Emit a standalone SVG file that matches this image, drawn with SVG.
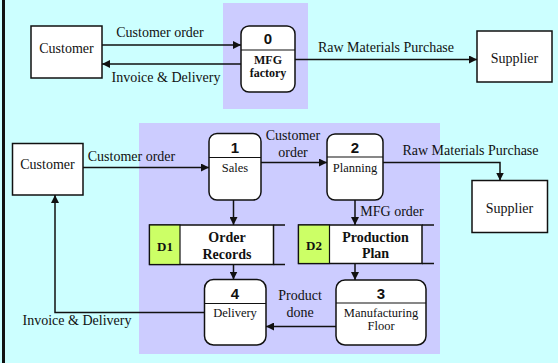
<svg xmlns="http://www.w3.org/2000/svg" width="558" height="363" viewBox="0 0 558 363">
  <defs>
    <marker id="arrow" viewBox="0 0 10 10" refX="10" refY="5" markerWidth="8" markerHeight="8" markerUnits="userSpaceOnUse" orient="auto">
      <path d="M0,0 L10,5 L0,10 Z" fill="#111"/>
    </marker>
    <style>
      .bg { fill: #CCFFFF; }
      .panel { fill: #CCCCFF; }
      .ext { fill: #FFFFFF; stroke: #111; stroke-width: 1.5; }
      .proc { fill: #FFFFFF; stroke: #111; stroke-width: 1.5; }
      .div { stroke: #111; stroke-width: 1.2; fill: none; }
      .store { fill: #FFFFFF; stroke: #111; stroke-width: 1.5; }
      .sid { fill: #CCFF66; stroke: #111; stroke-width: 1.2; }
      .flow { fill: none; stroke: #111; stroke-width: 1.5; marker-end: url(#arrow); }
      .lbl { font-family: "Liberation Serif", "Times New Roman", serif; font-size: 14px; fill: #111; }
      .ptxt { font-family: "Liberation Serif", "Times New Roman", serif; font-size: 12.5px; fill: #111; text-anchor: middle; }
      .num { font-family: "Liberation Sans", Arial, sans-serif; font-size: 15px; font-weight: bold; fill: #111; text-anchor: middle; }
      .bold { font-family: "Liberation Serif", "Times New Roman", serif; font-weight: bold; fill: #111; text-anchor: middle; }
      .mid { text-anchor: middle; }
    </style>
  </defs>

  <!-- backdrop -->
  <rect class="bg" x="0" y="0" width="558" height="363"/>
  <rect x="2" y="0" width="3" height="363" fill="#111"/>
  <rect class="panel" x="223" y="3" width="85" height="106"/>
  <rect class="panel" x="139" y="123" width="301" height="231"/>

  <!-- connectors -->
  <g id="connectors">
    <path class="flow" d="M102,45 H241"/>
    <path class="flow" d="M241,64 H102"/>
    <path class="flow" d="M295,59.5 H477"/>
    <path class="flow" d="M83,167.5 H209"/>
    <path class="flow" d="M261,162.5 H327"/>
    <path class="flow" d="M383,162.5 H500 V180.5"/>
    <path class="flow" d="M233.5,200 V225"/>
    <path class="flow" d="M233.5,264.5 V279.5"/>
    <path class="flow" d="M355,200 V225"/>
    <path class="flow" d="M355,263.5 V280"/>
    <path class="flow" d="M336,326.5 H266"/>
    <path class="flow" d="M204,312.5 H55 V195"/>

    <text class="lbl mid" x="160" y="37">Customer order</text>
    <text class="lbl mid" x="166" y="82">Invoice &amp; Delivery</text>
    <text class="lbl mid" x="386" y="52">Raw Materials Purchase</text>
    <text class="lbl mid" x="131.5" y="161">Customer order</text>
    <text class="lbl mid" x="293" y="140">Customer</text>
    <text class="lbl mid" x="293" y="156.5">order</text>
    <text class="lbl mid" x="470.5" y="155">Raw Materials Purchase</text>
    <text class="lbl mid" x="392" y="216">MFG order</text>
    <text class="lbl mid" x="300" y="300">Product</text>
    <text class="lbl mid" x="300" y="317">done</text>
    <text class="lbl mid" x="77" y="325">Invoice &amp; Delivery</text>
  </g>

  <!-- context level -->
  <g id="customer-top">
    <rect class="ext" x="31" y="26" width="71" height="52"/>
    <text class="lbl mid" x="66.5" y="53">Customer</text>
  </g>
  <g id="p0">
    <rect class="proc" x="241" y="26" width="54" height="66" rx="8"/>
    <line class="div" x1="241" y1="50" x2="295" y2="50"/>
    <text class="num" x="268" y="43.5">0</text>
    <text class="bold" x="268" y="63.5" font-size="12">MFG</text>
    <text class="bold" x="268" y="76.5" font-size="12">factory</text>
  </g>
  <g id="supplier-top">
    <rect class="ext" x="477" y="31" width="75" height="51"/>
    <text class="lbl mid" x="514.5" y="63">Supplier</text>
  </g>

  <!-- level 1 -->
  <g id="customer">
    <rect class="ext" x="12.5" y="143.5" width="70.5" height="51.5"/>
    <text class="lbl mid" x="47.5" y="169">Customer</text>
  </g>
  <g id="p1">
    <rect class="proc" x="209" y="133.5" width="52" height="66.5" rx="8"/>
    <line class="div" x1="209" y1="157.5" x2="261" y2="157.5"/>
    <text class="num" x="235" y="153">1</text>
    <text class="ptxt" x="235" y="171.5">Sales</text>
  </g>
  <g id="p2">
    <rect class="proc" x="327" y="134" width="56" height="66" rx="8"/>
    <line class="div" x1="327" y1="157" x2="383" y2="157"/>
    <text class="num" x="355" y="153">2</text>
    <text class="ptxt" x="355" y="171.5">Planning</text>
  </g>
  <g id="supplier">
    <rect class="ext" x="472" y="180.5" width="75.5" height="52"/>
    <text class="lbl mid" x="509.5" y="212.5">Supplier</text>
  </g>
  <g id="d1">
    <rect class="store" x="149.5" y="225" width="124" height="39.5"/>
    <rect class="sid" x="149.5" y="225" width="30.5" height="39.5"/>
    <path class="div" d="M273.5,225 H285 M273.5,264.5 H285" style="stroke-width:1.5"/>
    <text class="bold" x="165" y="250.5" font-size="13">D1</text>
    <text class="bold" x="227" y="241.5" font-size="14">Order</text>
    <text class="bold" x="227" y="258.5" font-size="14">Records</text>
  </g>
  <g id="d2">
    <rect class="store" x="298.5" y="225" width="123.5" height="38.5"/>
    <rect class="sid" x="298.5" y="225" width="31" height="38.5"/>
    <path class="div" d="M422,225 H434 M422,263.5 H434" style="stroke-width:1.5"/>
    <text class="bold" x="314" y="250" font-size="13">D2</text>
    <text class="bold" x="375.5" y="241.5" font-size="14">Production</text>
    <text class="bold" x="375.5" y="258" font-size="14">Plan</text>
  </g>
  <g id="p4">
    <rect class="proc" x="204.5" y="279.5" width="61.5" height="65.5" rx="9"/>
    <line class="div" x1="204.5" y1="303.5" x2="266" y2="303.5"/>
    <text class="num" x="235" y="298.5">4</text>
    <text class="ptxt" x="235" y="316.5">Delivery</text>
  </g>
  <g id="p3">
    <rect class="proc" x="336" y="280" width="90" height="65" rx="9"/>
    <line class="div" x1="336" y1="303" x2="426" y2="303"/>
    <text class="num" x="381" y="298.5">3</text>
    <text class="ptxt" x="381" y="316.5">Manufacturing</text>
    <text class="ptxt" x="381" y="330">Floor</text>
  </g>
</svg>
